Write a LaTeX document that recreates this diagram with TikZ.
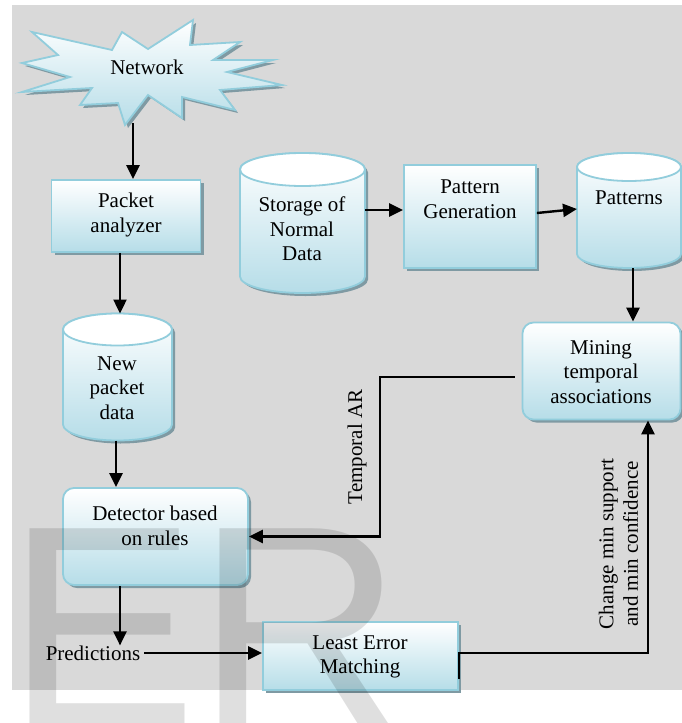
\documentclass[tikz,border=0pt]{standalone}
\usepackage{fontspec}
\setmainfont{Liberation Serif}
\newfontfamily\wmfont{Liberation Sans}
\usetikzlibrary{shadows,arrows.meta}
\definecolor{bg}{HTML}{D9D9D9}
\definecolor{aqb}{HTML}{B6DDE8}
\definecolor{aqe}{HTML}{92CDDC}
\definecolor{shd}{HTML}{7F9AA3}
% cx, cy, half width, half height, ellipse y radius
\newcommand\drawcyl[5]{%
 \path[shadedst]
   ({#1-#3},{#2-#4+#5}) -- ({#1-#3},{#2+#4-#5})
   arc[start angle=180,end angle=360,x radius=#3pt,y radius=#5pt]
   -- ({#1+#3},{#2-#4+#5})
   arc[start angle=0,end angle=180,x radius=#3pt,y radius=#5pt] -- cycle;
 \draw[draw=aqe,line width=1.8pt,fill=white] ({#1},{#2-#4+#5}) ellipse[x radius=#3pt,y radius=#5pt];
}
\begin{document}
\begin{tikzpicture}[x=1pt,y=-1pt,
 shadedst/.style={draw=aqe, line width=1.8pt, top color=white, bottom color=aqb,
   drop shadow={shadow xshift=3pt, shadow yshift=-3pt, fill=shd, opacity=1}},
 box/.style={shadedst, inner sep=0pt},
 rbox/.style={box, rounded corners=11pt},
 anch/.style={inner sep=0pt, outer sep=0pt},
 lbl/.style={font=\fontsize{21}{24.5}\selectfont, align=center, inner sep=0pt},
 arr/.style={line width=2.4pt, -{Triangle[length=14pt,width=13pt]}},
]
\useasboundingbox (0,0) rectangle (682,723);
\fill[bg] (12,5) rectangle (682,690);

% starburst
\path[shadedst]
 (32,32) -- (112,50) -- (122,32) -- (148,49) -- (193,20) -- (190,45) -- (240,42) -- (213,60)
 -- (273,60) -- (227,72) -- (282,85) -- (220,90) -- (235,110) -- (182,97) -- (182,118)
 -- (148,95) -- (125,125) -- (118,103) -- (80,105) -- (92,88) -- (22,92) -- (70,77)
 -- (22,63) -- (58,55) -- cycle;
\node[lbl] (net) at (147,67) {Network};
\coordinate (netTip) at (133,123);

% boxes
\node[box, minimum width=149pt, minimum height=72pt] (pa) at (126,216) {};
\node[lbl] (paT) at (126,215) {Packet\\analyzer};

\drawcyl{117.5}{377}{54.5}{63.5}{16}
\node[anch, minimum width=109pt, minimum height=127pt] (newp) at (117.5,377) {};
\node[lbl] (newpT) at (117,388) {New\\packet\\data};

\node[rbox, minimum width=185pt, minimum height=97pt] (det) at (155.5,536.5) {};
\node[lbl] (detT) at (155,526) {Detector based\\on rules};

\node[lbl] (pred) at (93,653) {Predictions};

\node[box, minimum width=195pt, minimum height=68pt] (lem) at (360.5,656) {};
\node[lbl] (lemT) at (360,657) {Least Error\\Matching};

\drawcyl{302.5}{223}{62.5}{70}{16.5}
\node[anch, minimum width=125pt, minimum height=140pt] (store) at (302.5,223) {};
\node[lbl] (storeT) at (302,229) {Storage of\\Normal\\Data};

\node[box, minimum width=132pt, minimum height=103pt] (pg) at (470,216.5) {};
\node[lbl] (pgT) at (470,199) {Pattern\\Generation};

\drawcyl{629}{210.5}{52}{57.5}{14}
\node[anch, minimum width=104pt, minimum height=115pt] (pats) at (629,210.5) {};
\node[lbl] (patsT) at (629,198) {Patterns};

\node[rbox, minimum width=158pt, minimum height=97pt] (min) at (601.5,371) {};
\node[lbl] (minT) at (601,372) {Mining\\temporal\\associations};

% connectors
\draw[arr] (netTip) -- (netTip |- pa.north);
\draw[arr] ([xshift=-6pt]pa.south) -- ([xshift=-6pt]pa.south |- newp.north);
\draw[arr] ([xshift=-1.5pt]newp.south) -- ([xshift=-1.5pt]newp.south |- det.north);
\draw[arr] ([xshift=-35.5pt]det.south) -- ([xshift=-35.5pt]det.south |- pred.north);
\draw[arr] ([xshift=4pt]pred.east) -- (lem.west |- pred.east);
\draw[arr] ([yshift=13pt]store.east) -- ([yshift=6.5pt]pg.west);
\draw[arr] ([yshift=3.5pt]pg.east) -- ([yshift=1.5pt]pats.west);
\draw[arr] ([xshift=4pt]pats.south) -- ([xshift=4pt]pats.south |- min.north);
\coordinate (tarx) at (380,0);
\draw[arr] ([xshift=-7pt,yshift=-6pt]min.west) -| (tarx |- det.east) -- (det.east);
\draw[arr] ([yshift=-23pt]lem.east) -- ([yshift=3pt]lem.east) -| ([xshift=46.5pt]min.south);

\node[lbl, rotate=90] (tar) at (357,447) {Temporal AR};
\node[lbl, rotate=90] (chg) at (618.5,544) {Change min support\\and min confidence};

% watermark
\node[font=\wmfont\fontsize{286}{286}\selectfont, text=black, text opacity=0.125,
  anchor=base west, inner sep=0pt] (wm) at (6,725) {ER};
\end{tikzpicture}
\end{document}
